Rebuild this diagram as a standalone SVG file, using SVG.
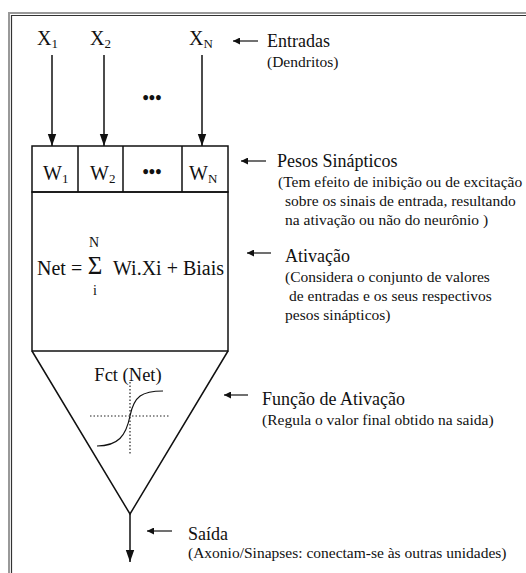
<svg xmlns="http://www.w3.org/2000/svg" width="526" height="573" viewBox="0 0 526 573" font-family="'Liberation Serif', 'DejaVu Serif', serif">
<style>
text{font-family:'Liberation Serif','DejaVu Serif',serif;fill:#111}
.big{font-size:18px}
.var{font-size:20px}
.sub{font-size:13px}
.note{font-size:15.5px}
.ln{stroke:#111;stroke-width:1.5;fill:none}
.thin{stroke:#111;stroke-width:1.2;fill:none}
.dot{stroke:#222;stroke-width:1.2;stroke-dasharray:1.5 2;fill:none}
</style>
<defs>
<marker id="ah" viewBox="0 0 10 10" refX="10" refY="5" markerWidth="7" markerHeight="7" markerUnits="userSpaceOnUse" orient="auto">
<path d="M0,0 L10,5 L0,10 z" fill="#111"/>
</marker>
<marker id="big" viewBox="0 0 10 10" refX="10" refY="5" markerWidth="12" markerHeight="12" markerUnits="userSpaceOnUse" orient="auto">
<path d="M0,1.5 L10,5 L0,8.5 z" fill="#111"/>
</marker>
</defs>
<rect width="526" height="573" fill="#fff"/>
<g id="frame">
<path d="M9,573 V13 H526" stroke="#999" stroke-width="2" fill="none"/>
<path d="M11.5,573 V15.5 H526" stroke="#333" stroke-width="1.2" fill="none"/>
</g>
<g id="inputs">
<text x="37" y="45" class="var">X<tspan class="sub" dy="3">1</tspan></text>
<text x="90" y="45" class="var">X<tspan class="sub" dy="3">2</tspan></text>
<text x="189" y="45" class="var">X<tspan class="sub" dy="3">N</tspan></text>
<text x="152" y="104" class="big" text-anchor="middle" font-weight="bold">•••</text>
</g>
<g id="weights">
<rect x="32" y="146" width="196" height="46" class="ln"/>
<path d="M78,146 V192 M123,146 V192 M182,146 V192" class="ln"/>
<text x="43" y="180" class="var">W<tspan class="sub" dy="3">1</tspan></text>
<text x="90" y="180" class="var">W<tspan class="sub" dy="3">2</tspan></text>
<text x="152" y="178" class="big" text-anchor="middle" font-weight="bold">•••</text>
<text x="189" y="180" class="var">W<tspan class="sub" dy="3">N</tspan></text>
</g>
<g id="activation">
<rect x="32" y="192" width="196" height="159" class="ln"/>
<text x="37" y="275" class="var">Net =</text>
<text x="95" y="274" style="font-size:25px" text-anchor="middle">Σ</text>
<text x="94" y="247" style="font-size:14px" text-anchor="middle">N</text>
<text x="95" y="295" style="font-size:14px" text-anchor="middle">i</text>
<text x="113" y="275" class="var">Wi.Xi + Biais</text>
</g>
<g id="function">
<path d="M32,351 L130,514 L228,351" class="ln"/>
<text x="128" y="381" style="font-size:18.5px" text-anchor="middle">Fct (Net)</text>
<path d="M90,416 H170" class="dot"/>
<path d="M130,382 V455" class="dot"/>
<path d="M97,446 C118,446 126,436 130,416 C134,396 142,391 163,391" class="thin"/>
</g>
<g id="connectors">
<path d="M52,55 V146" class="ln" marker-end="url(#big)"/>
<path d="M104,55 V146" class="ln" marker-end="url(#big)"/>
<path d="M202,55 V146" class="ln" marker-end="url(#big)"/>
<path d="M130,514 V562" class="ln" marker-end="url(#big)"/>
<path d="M258,41 H233" class="thin" marker-end="url(#ah)"/>
<path d="M266,161 H241" class="thin" marker-end="url(#ah)"/>
<path d="M271,253 H247" class="thin" marker-end="url(#ah)"/>
<path d="M248,395 H224" class="thin" marker-end="url(#ah)"/>
<path d="M172,531 H147" class="thin" marker-end="url(#ah)"/>
</g>
<g id="labels">
<text x="267" y="47" class="big">Entradas</text>
<text x="267" y="67" class="note">(Dendritos)</text>
<text x="277" y="167" class="big">Pesos Sinápticos</text>
<text x="278" y="187" class="note">(Tem efeito de inibição ou de excitação</text>
<text x="285" y="206" class="note">sobre os sinais de entrada, resultando</text>
<text x="285" y="225" class="note">na ativação ou não do neurônio )</text>
<text x="285" y="262" class="big">Ativação</text>
<text x="285" y="282" class="note">(Considera o conjunto de valores</text>
<text x="289" y="301" class="note">de entradas e os seus respectivos</text>
<text x="285" y="320" class="note">pesos sinápticos)</text>
<text x="262" y="405" class="big">Função de Ativação</text>
<text x="262" y="425" class="note">(Regula o valor final obtido na saida)</text>
<text x="188" y="540" class="big">Saída</text>
<text x="188" y="558" class="note">(Axonio/Sinapses: conectam-se às outras unidades)</text>
</g>
</svg>
